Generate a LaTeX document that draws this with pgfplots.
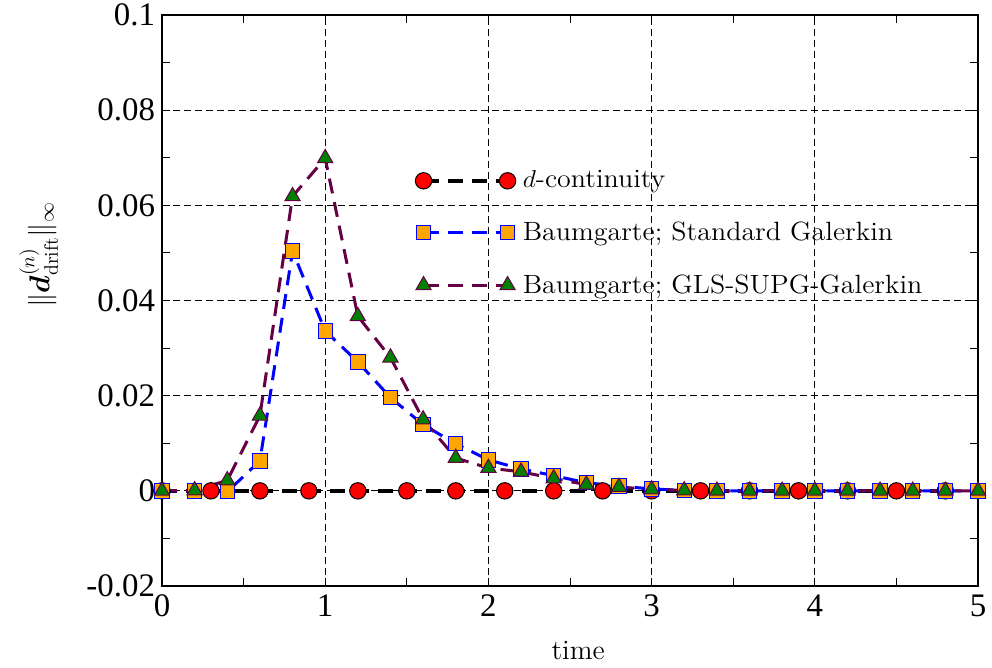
\documentclass[border=0pt]{standalone}
\usepackage{amsmath}
\usepackage{pgfplots}
\pgfplotsset{compat=1.18}
\usepackage{fontspec}
\newfontfamily\tickfont{Liberation Serif}
\definecolor{sqfill}{RGB}{255,165,0}
\definecolor{trifill}{RGB}{0,128,0}
\definecolor{purp}{RGB}{102,0,68}
\newcommand{\legtxt}[1]{\scalebox{1.08}[1.02]{#1}}
\begin{document}
\begin{tikzpicture}
\begin{axis}[
  name=ax,
  scale only axis,
  width=408bp, height=285.5bp,
  xmin=0, xmax=5, ymin=-0.02, ymax=0.1,
  xtick={0,1,2,3,4,5},
  xticklabels={0,1,2,3,4,5},
  ytick={-0.02,0,0.02,0.04,0.06,0.08,0.1},
  yticklabels={-0.02,0,0.02,0.04,0.06,0.08,0.1},
  minor xtick={0.5,1.5,2.5,3.5,4.5},
  minor ytick={-0.01,0.01,0.03,0.05,0.07,0.09},
  tick align=inside,
  major tick length=4bp, minor tick length=4bp,
  tick style={black, line width=0.5bp},
  ticklabel style={font=\tickfont\fontsize{16.5}{19}\selectfont},
  xticklabel style={yshift=-1bp},
  grid=major,
  major grid style={black, line width=0.55bp, dash pattern=on 3.5bp off 2bp},
  axis line style={line width=0.8bp},
  xlabel={time},
  xlabel style={font=\fontsize{14}{16}\selectfont, at={(axis description cs:0.51,0)}, anchor=base, yshift=-36.5bp},
  ylabel={$\|\boldsymbol{d}^{(n)}_{\mathrm{drift}}\|_\infty$},
  ylabel style={font=\fontsize{14}{16}\selectfont, at={(axis description cs:-0.151,0.58)}, anchor=center},
  legend style={at={(0.31,0.735)}, anchor=north west, draw=none, fill=none,
    inner sep=0pt, column sep=1.5bp,
    font=\fontsize{13}{15}\selectfont, row sep=11.5bp,
    legend cell align=left},
  legend image code/.code={\draw[mark repeat=1,mark phase=1] plot coordinates {(0bp,0bp) (42bp,0bp)};},
]
\addplot[black, line width=1.8bp, dash pattern=on 7.5bp off 4.5bp,
  mark=*, mark size=4.1bp, mark options={solid, fill=red, draw=black, line width=0.5bp}]
  coordinates {(0,0)(0.3,0)(0.6,0)(0.9,0)(1.2,0)(1.5,0)(1.8,0)(2.1,0)(2.4,0)(2.7,0)(3.0,0)(3.3,0)(3.6,0)(3.9,0)(4.2,0)(4.5,0)(4.8,0)};
\addlegendentry{\legtxt{$d$-continuity}}
\addplot[blue, line width=1.5bp, dash pattern=on 7.5bp off 4.5bp,
  mark=square*, mark size=3.6bp, mark options={solid, fill=sqfill, draw=blue, line width=0.5bp}]
  coordinates {(0,0)(0.2,0)(0.4,-0.0002)(0.6,0.0063)(0.8,0.0504)(1.0,0.0336)(1.2,0.0271)(1.4,0.0196)(1.6,0.0139)(1.8,0.0099)(2.0,0.0065)(2.2,0.0046)(2.4,0.0032)(2.6,0.0017)(2.8,0.0010)(3.0,0.0004)(3.2,0.0001)(3.4,0)(3.6,0)(3.8,0)(4.0,0)(4.2,0)(4.4,0)(4.6,0)(4.8,0)(5.0,0)};
\addlegendentry{\legtxt{Baumgarte; Standard Galerkin}}
\addplot[purp, line width=1.5bp, dash pattern=on 7.5bp off 4.5bp,
  mark=triangle*, mark size=4.4bp, mark options={solid, fill=trifill, draw=purp, line width=0.5bp}]
  coordinates {(0,0)(0.2,0.0001)(0.4,0.0022)(0.6,0.0158)(0.8,0.0619)(1.0,0.0699)(1.2,0.0367)(1.4,0.0280)(1.6,0.0150)(1.8,0.0069)(2.0,0.0048)(2.2,0.0040)(2.4,0.0026)(2.6,0.0013)(2.8,0.0008)(3.0,0.0003)(3.2,0.0001)(3.4,0)(3.6,0)(3.8,0)(4.0,0)(4.2,0)(4.4,0)(4.6,0)(4.8,0)(5.0,0)};
\addlegendentry{\legtxt{Baumgarte; GLS-SUPG-Galerkin}}
\end{axis}
\pgfresetboundingbox
\path ([shift={(-81bp,-40.5bp)}]ax.south west) rectangle ([shift={(7bp,7.5bp)}]ax.north east);
\end{tikzpicture}
\end{document}
